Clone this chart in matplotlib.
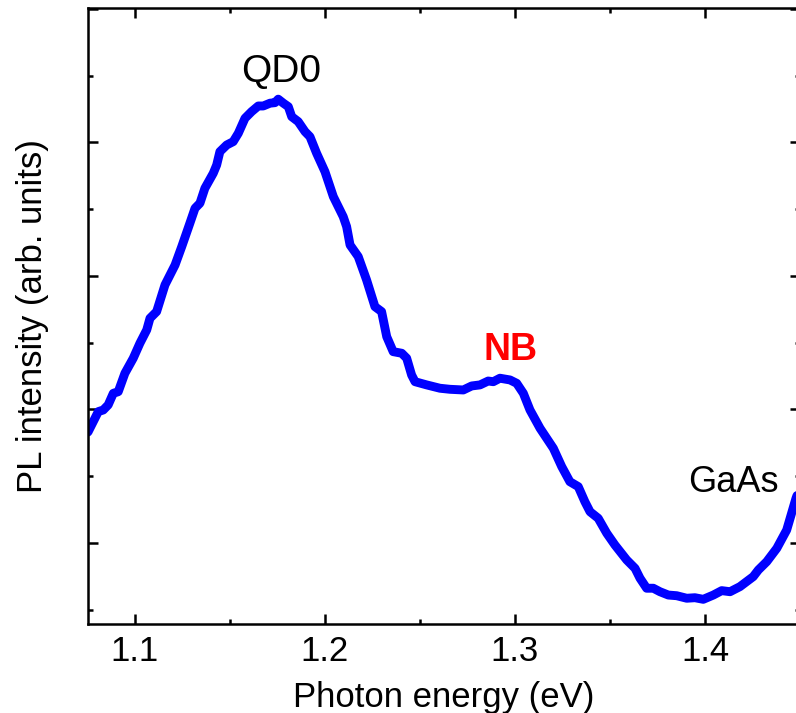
import numpy as np
import matplotlib
matplotlib.use("Agg")
import matplotlib.pyplot as plt
from matplotlib.ticker import MultipleLocator, NullFormatter

plt.rcParams['font.family'] = ['Liberation Sans', 'DejaVu Sans']

# === DATA ===
energy = [1.0753, 1.0807, 1.0833, 1.0859, 1.0886, 1.0912, 1.0947, 1.0991, 1.1026, 1.1062,
          1.1079, 1.1114, 1.1158, 1.1211, 1.1246, 1.1289, 1.1316, 1.1342, 1.1368, 1.1412,
          1.1430, 1.1447, 1.1483, 1.1517, 1.1544, 1.1579, 1.1614, 1.1649, 1.1675, 1.1711,
          1.1737, 1.1754, 1.1781, 1.1807, 1.1825, 1.1859, 1.1895, 1.1921, 1.1956, 1.2000,
          1.2044, 1.2096, 1.2114, 1.2132, 1.2175, 1.2219, 1.2263, 1.2298, 1.2325, 1.2359,
          1.2404, 1.2430, 1.2456, 1.2474, 1.2535, 1.2605, 1.2658, 1.2728, 1.2772, 1.2816,
          1.2859, 1.2886, 1.2921, 1.2974, 1.3009, 1.3044, 1.3079, 1.3132, 1.3202, 1.3246,
          1.3289, 1.3333, 1.3368, 1.3395, 1.3438, 1.3483, 1.3526, 1.3588, 1.3632, 1.3658,
          1.3693, 1.3728, 1.3763, 1.3807, 1.3851, 1.3904, 1.3947, 1.3991, 1.4044, 1.4088,
          1.4132, 1.4184, 1.4254, 1.4281, 1.4325, 1.4378, 1.4430, 1.4479, 1.4505]
intensity = [1.831, 1.984, 1.996, 2.034, 2.121, 2.133, 2.271, 2.384, 2.496, 2.596,
             2.683, 2.733, 2.933, 3.082, 3.219, 3.395, 3.507, 3.545, 3.657, 3.769,
             3.831, 3.931, 3.981, 4.006, 4.069, 4.181, 4.231, 4.273, 4.273, 4.294,
             4.298, 4.324, 4.294, 4.268, 4.193, 4.156, 4.081, 4.043, 3.919, 3.781,
             3.594, 3.444, 3.369, 3.232, 3.145, 2.970, 2.770, 2.733, 2.545, 2.433,
             2.421, 2.384, 2.258, 2.208, 2.184, 2.159, 2.151, 2.146, 2.176, 2.184,
             2.213, 2.208, 2.234, 2.221, 2.196, 2.121, 1.996, 1.859, 1.709, 1.572,
             1.459, 1.422, 1.309, 1.234, 1.185, 1.073, 0.985, 0.873, 0.810, 0.736,
             0.661, 0.661, 0.635, 0.610, 0.605, 0.586, 0.590, 0.578, 0.610, 0.643,
             0.635, 0.673, 0.748, 0.798, 0.860, 0.960, 1.097, 1.335, 1.434]

peak_labels = ["QD0", "NB", "GaAs"]
peak_x = [1.1768, 1.2979, 1.4147]
peak_y = [4.453, 2.371, 1.382]
peak_colors = ["black", "#ff0000", "black"]
peak_weights = ["normal", "bold", "normal"]
peak_sizes = [28, 27, 26]

# === PLOT ===
fig = plt.figure(figsize=(7.96, 7.13), dpi=100)
ax = fig.add_axes([0.1106, 0.1248, 0.8944, 0.8640])

ax.plot(energy, intensity, color="#0000ff", lw=6.4, solid_joinstyle='round', solid_capstyle='round')

for lab, x, y, c, w, s in zip(peak_labels, peak_x, peak_y, peak_colors, peak_weights, peak_sizes):
    ax.text(x, y, lab, color=c, fontweight=w, fontsize=s, ha='center', va='baseline')

ax.set_xlim(1.0753, 1.4500)
ax.set_ylim(0.393, 5.007)
ax.xaxis.set_major_locator(MultipleLocator(0.1))
ax.xaxis.set_minor_locator(MultipleLocator(0.05))
ax.yaxis.set_major_locator(MultipleLocator(1))
ax.yaxis.set_minor_locator(MultipleLocator(0.5))
ax.yaxis.set_major_formatter(NullFormatter())

ax.tick_params(which='both', direction='in', top=True, right=True, width=1.8, labelsize=25, pad=8)
ax.tick_params(which='major', length=7)
ax.tick_params(which='minor', length=3.5)
for sp in ax.spines.values():
    sp.set_linewidth(1.8)

ax.set_xlabel("Photon energy (eV)", fontsize=25, labelpad=9)
ax.set_ylabel("PL intensity (arb. units)", fontsize=25, labelpad=20)

fig.savefig("out.png", dpi=100)
